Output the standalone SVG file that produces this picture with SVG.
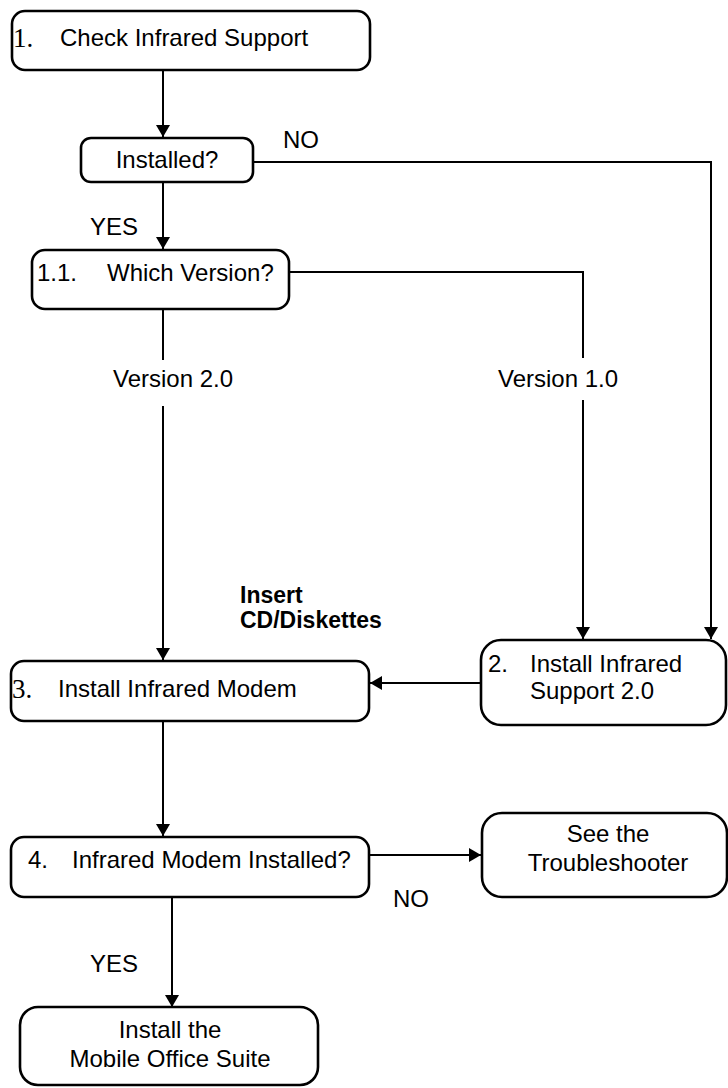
<svg xmlns="http://www.w3.org/2000/svg" width="728" height="1088" viewBox="0 0 728 1088">
<style>
.box{fill:#fff;stroke:#000;stroke-width:2.6}
.t{font-family:"Liberation Sans",Arial,sans-serif;font-size:24px;fill:#000}
.s{font-family:"Liberation Serif","Times New Roman",serif;font-size:27px;fill:#000}
.b{font-family:"Liberation Sans",Arial,sans-serif;font-size:23px;font-weight:bold;fill:#000}
.c{fill:none;stroke:#000;stroke-width:2}
.m{text-anchor:middle}
</style>
<defs>
<marker id="ah" markerUnits="userSpaceOnUse" markerWidth="15" markerHeight="15" refX="12" refY="7" orient="auto">
<path d="M0,0 L12,7 L0,14 z" fill="#000"/>
</marker>
</defs>
<rect width="728" height="1088" fill="#fff"/>
<g id="connectors">
<path class="c" d="M163,70 V137" marker-end="url(#ah)"/>
<path class="c" d="M253,162 H711 V639" marker-end="url(#ah)"/>
<path class="c" d="M163,182 V249" marker-end="url(#ah)"/>
<path class="c" d="M289,272 H583 V358"/>
<path class="c" d="M583,400 V639" marker-end="url(#ah)"/>
<path class="c" d="M163,309 V360"/>
<path class="c" d="M163,406 V660" marker-end="url(#ah)"/>
<path class="c" d="M481,683 H370" marker-end="url(#ah)"/>
<path class="c" d="M163,721 V836" marker-end="url(#ah)"/>
<path class="c" d="M369,855 H481" marker-end="url(#ah)"/>
<path class="c" d="M172,897 V1007" marker-end="url(#ah)"/>
<text class="t" x="283" y="148">NO</text>
<text class="t" x="90" y="235">YES</text>
<text class="t" x="113" y="387">Version 2.0</text>
<text class="t" x="498" y="387">Version 1.0</text>
<text class="b" x="240" y="603">Insert</text>
<text class="b" x="240" y="628">CD/Diskettes</text>
<text class="t" x="393" y="907">NO</text>
<text class="t" x="90" y="972">YES</text>
</g>
<g id="n1">
<rect class="box" x="12" y="11" width="358" height="59" rx="13"/>
<text class="s" x="13" y="47">1.</text>
<text class="t" x="60" y="46">Check Infrared Support</text>
</g>
<g id="n-installed">
<rect class="box" x="81" y="138" width="172" height="44" rx="10"/>
<text class="t m" x="167" y="168">Installed?</text>
</g>
<g id="n11">
<rect class="box" x="32" y="250" width="257" height="59" rx="13"/>
<text class="t" x="37" y="281">1.1.</text>
<text class="t" x="107" y="281">Which Version?</text>
</g>
<g id="n2">
<rect class="box" x="481" y="640" width="245" height="85" rx="20"/>
<text class="t" x="488" y="672">2.</text>
<text class="t" x="530" y="672">Install Infrared</text>
<text class="t" x="530" y="699">Support 2.0</text>
</g>
<g id="n3">
<rect class="box" x="11" y="661" width="358" height="60" rx="13"/>
<text class="s" x="12" y="698">3.</text>
<text class="t" x="58" y="697">Install Infrared Modem</text>
</g>
<g id="n4">
<rect class="box" x="11" y="837" width="358" height="60" rx="13"/>
<text class="t" x="28" y="868">4.</text>
<text class="t" x="72" y="868">Infrared Modem Installed?</text>
</g>
<g id="n-trouble">
<rect class="box" x="482" y="813" width="245" height="84" rx="20"/>
<text class="t m" x="608" y="842">See the</text>
<text class="t m" x="608" y="871">Troubleshooter</text>
</g>
<g id="n5">
<rect class="box" x="20" y="1007" width="298" height="78" rx="18"/>
<text class="t m" x="170" y="1038">Install the</text>
<text class="t m" x="170" y="1067">Mobile Office Suite</text>
</g>
</svg>
